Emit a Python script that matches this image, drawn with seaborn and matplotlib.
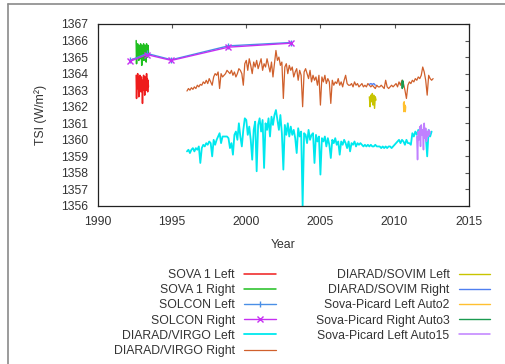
import numpy as np
import pandas as pd
import matplotlib
matplotlib.use("Agg")
import matplotlib.pyplot as plt
import seaborn as sns
from matplotlib.lines import Line2D

# ---- data ----
sova1_years = np.round(1992.575 + 0.025 * np.arange(34), 3)
sova1_left = [1363.9, 1362.5, 1363.6, 1363.1, 1364.0, 1363.2, 1363.8, 1362.6, 1363.5, 1363.0,
              1363.9, 1363.3, 1363.7, 1362.9, 1363.8, 1363.2, 1363.6, 1362.2, 1363.5, 1363.1,
              1363.9, 1363.0, 1363.6, 1362.7, 1363.8, 1363.2, 1363.5, 1363.0, 1364.0, 1363.1,
              1363.7, 1362.9, 1363.6, 1363.2]
sova1_right = [1366.0, 1364.6, 1365.6, 1365.0, 1365.8, 1365.1, 1365.5, 1364.8, 1365.7, 1365.2,
               1365.6, 1364.9, 1365.8, 1365.1, 1365.4, 1364.5, 1365.7, 1365.0, 1365.6, 1365.2,
               1365.8, 1364.8, 1365.5, 1365.1, 1365.7, 1365.0, 1365.6, 1364.7, 1365.8, 1365.2,
               1365.5, 1365.0, 1365.7, 1365.3]

solcon_years = [1992.15, 1993.3, 1994.95, 1998.8, 2003.0]
solcon_left = [1364.8, 1365.22, 1364.84, 1365.68, 1365.88]
solcon_right = [1364.74, 1365.15, 1364.8, 1365.6, 1365.84]

virgo_left_years = np.round(1996.0 + 0.1 * np.arange(166), 2)
virgo_left = [
    1359.3, 1359.4, 1359.2, 1359.4, 1359.5, 1359.3, 1359.5, 1359.4, 1359.6, 1358.6,
    1359.5, 1359.7, 1359.6, 1359.8, 1359.7, 1359.9, 1359.8, 1359.0, 1360.0, 1359.7,
    1360.0, 1360.2, 1360.4, 1359.8, 1360.2, 1360.2, 1360.2, 1360.2, 1360.1, 1359.5,
    1359.8, 1359.1, 1360.3, 1360.5, 1360.0, 1361.0, 1360.2, 1359.6, 1360.6, 1361.3,
    1361.2, 1360.3, 1360.8, 1360.0, 1358.8, 1360.6, 1361.1, 1358.1, 1360.9, 1361.3,
    1360.5, 1361.2, 1358.3, 1361.0, 1360.6, 1361.3, 1360.2, 1361.4, 1360.9, 1361.5,
    1361.8, 1361.2, 1360.6, 1361.5, 1360.4, 1358.2, 1360.9, 1360.3, 1361.0, 1360.2,
    1360.8, 1360.3, 1360.6, 1360.1, 1359.2, 1360.7, 1360.2, 1360.5, 1356.0, 1360.4,
    1360.3, 1359.8, 1360.6, 1360.0, 1360.3, 1360.4, 1358.6, 1360.3, 1359.9, 1360.2,
    1357.9, 1360.1, 1359.9, 1360.2, 1359.6, 1360.1, 1359.7, 1358.9, 1360.0, 1359.8,
    1360.1, 1359.7, 1359.9, 1359.1, 1359.9, 1359.7, 1360.0, 1359.8, 1359.5, 1359.9,
    1359.3, 1359.8, 1359.7, 1359.9, 1359.6, 1359.8, 1359.7, 1359.8, 1359.7, 1359.6,
    1359.7, 1359.6, 1359.7, 1359.6, 1359.7, 1359.6, 1359.6, 1359.7, 1359.6, 1359.6,
    1359.6, 1359.5, 1359.6, 1359.5, 1359.6, 1359.5, 1359.6, 1359.6, 1359.5, 1359.6,
    1359.7, 1359.8, 1359.9, 1360.0, 1359.8, 1360.0, 1359.9, 1359.7, 1360.0, 1359.8,
    1359.8, 1359.7, 1360.4, 1360.2, 1360.5, 1360.3, 1360.6, 1360.2, 1360.4, 1360.3,
    1360.5, 1360.3, 1359.0, 1360.6, 1360.2, 1360.5]

virgo_right_years = np.round(1996.0 + 0.1 * np.arange(167), 2)
virgo_right = [
    1362.95, 1363.1, 1363.0, 1363.15, 1363.05, 1363.2, 1363.1, 1363.3, 1363.2, 1363.35,
    1363.3, 1363.5, 1363.4, 1363.6, 1363.4, 1363.7, 1363.5, 1363.3, 1363.8, 1364.0,
    1363.9, 1364.1, 1363.1, 1364.0, 1363.8, 1363.9, 1364.0, 1364.2, 1364.1, 1364.0,
    1364.2, 1363.9, 1364.1, 1363.8, 1364.0, 1364.3, 1364.2, 1364.0, 1363.3, 1364.6,
    1364.8, 1364.2, 1364.9, 1364.5, 1364.0, 1364.7, 1364.4, 1364.8, 1364.3, 1364.6,
    1364.9, 1364.2, 1364.6, 1364.4, 1364.9, 1364.5, 1364.1, 1364.7, 1363.8, 1364.6,
    1365.4, 1364.8, 1365.0, 1364.5, 1364.7, 1362.5, 1364.4, 1364.6, 1364.0, 1364.5,
    1364.2, 1364.4, 1363.8, 1364.1, 1364.3, 1363.6, 1364.2, 1363.9, 1362.0, 1364.1,
    1364.3, 1364.0, 1363.7, 1364.2, 1363.5, 1363.9, 1363.6, 1363.8, 1363.3, 1363.9,
    1362.1, 1363.8, 1363.5, 1363.9, 1363.4, 1363.7, 1363.5, 1362.2, 1363.6, 1363.3,
    1363.5, 1363.4, 1363.7, 1363.3, 1363.5, 1363.2, 1363.6, 1363.9, 1363.4, 1363.3,
    1363.3, 1363.4, 1363.2, 1363.5, 1363.3, 1363.4, 1363.2, 1363.3, 1363.4, 1363.2,
    1363.3, 1363.2, 1363.4, 1363.3, 1363.2, 1363.3, 1363.2, 1363.1, 1363.3, 1363.2,
    1363.2, 1363.3, 1363.2, 1363.1, 1363.6, 1363.2, 1363.1, 1363.2, 1363.3, 1363.2,
    1363.3, 1363.4, 1363.2, 1363.5, 1363.3, 1363.6, 1363.4, 1363.0, 1362.5, 1363.3,
    1363.5, 1363.4, 1363.6, 1363.5, 1363.7, 1363.6, 1363.8, 1363.7, 1363.9, 1364.4,
    1364.1, 1363.6, 1362.7, 1363.9, 1363.7, 1363.6, 1363.7]

sovim_left_years = np.round(2008.3 + 0.05 * np.arange(10), 3)
sovim_left = [1362.6, 1362.0, 1362.7, 1362.3, 1362.8, 1362.1, 1362.7, 1361.9, 1362.6, 1362.4]
sovim_right_years = [2008.3, 2008.4, 2008.5, 2008.6, 2008.7]
sovim_right = [1363.35, 1363.4, 1363.35, 1363.4, 1363.3]

auto2_years = np.round(2010.6 + 0.025 * np.arange(7), 3)
auto2 = [1362.2, 1361.7, 1362.3, 1361.8, 1362.1, 1361.7, 1362.0]
auto3_years = np.round(2010.5 + 0.02 * np.arange(6), 3)
auto3 = [1363.5, 1363.1, 1363.6, 1363.2, 1363.5, 1363.2]
auto15_years = np.round(2011.5 + 0.05 * np.arange(19), 3)
auto15 = [1360.2, 1358.8, 1360.5, 1360.0, 1360.8, 1359.6, 1360.9, 1360.3, 1360.6, 1359.4,
          1361.0, 1360.1, 1360.7, 1359.9, 1360.5, 1360.2, 1360.6, 1360.3, 1360.5]

series = [
    ("SOVA 1 Left", sova1_years, sova1_left, "#ee1c1c", None, 1.1),
    ("SOVA 1 Right", sova1_years, sova1_right, "#1fbf1f", None, 1.1),
    ("SOLCON Left", solcon_years, solcon_left, "#4a8fe6", "|", 1.0),
    ("SOLCON Right", solcon_years, solcon_right, "#c62ff2", "x", 1.0),
    ("DIARAD/VIRGO Left", virgo_left_years, virgo_left, "#00e8ee", None, 1.3),
    ("DIARAD/VIRGO Right", virgo_right_years, virgo_right, "#d0602c", None, 0.9),
    ("DIARAD/SOVIM Left", sovim_left_years, sovim_left, "#c8c400", None, 1.0),
    ("DIARAD/SOVIM Right", sovim_right_years, sovim_right, "#4f7ff0", None, 1.0),
    ("Sova-Picard Left Auto2", auto2_years, auto2, "#ffc030", None, 1.0),
    ("Sova-Picard Right Auto3", auto3_years, auto3, "#1a9a50", None, 1.0),
    ("Sova-Picard Left Auto15", auto15_years, auto15, "#c080ff", None, 1.1),
]

sns.set_style("white")
plt.rcParams["font.family"] = ["Liberation Sans", "DejaVu Sans"]
fs = 8.8
plt.rcParams["font.size"] = fs

fig = plt.figure(figsize=(5.05, 3.64), dpi=100)
ax = fig.add_axes([98 / 505, 1 - 206 / 364, (468.7 - 98) / 505, (206 - 24) / 364])

for label, xs, ys, color, marker, lw in series:
    df = pd.DataFrame({"Year": xs, "TSI": ys})
    sns.lineplot(data=df, x="Year", y="TSI", ax=ax, color=color, label=label,
                 estimator=None, sort=False, linewidth=lw,
                 marker=marker, markersize=5, markeredgewidth=1.0,
                 markeredgecolor=color)

ax.set_xlim(1990, 2015)
ax.set_ylim(1356, 1367)
ax.set_xticks(range(1990, 2016, 5))
ax.set_yticks(range(1356, 1368))
ax.set_xlabel("Year", fontsize=fs, labelpad=8)
ax.set_ylabel("TSI (W/m²)", fontsize=fs, labelpad=10)
ax.tick_params(direction="in", length=3, width=0.8, color="#555555",
               top=True, right=True, labelsize=fs, pad=7, labelcolor="#333333")
for sp in ax.spines.values():
    sp.set_color("#222222")
    sp.set_linewidth(0.9)
ax.xaxis.label.set_color("#333333")
ax.yaxis.label.set_color("#333333")

handles, labels = ax.get_legend_handles_labels()
ax.get_legend().remove()
fig.legend(handles, labels, loc="upper left",
           bbox_to_anchor=(114 / 505, 1 - 269 / 364), ncol=2, markerfirst=False,
           frameon=False, fontsize=fs, handlelength=2.6, handletextpad=0.75,
           columnspacing=3.25, labelspacing=0.26, borderpad=0, borderaxespad=0,
           labelcolor="#333333")

# thin grey frame of the original screenshot
fig.add_artist(Line2D([8 / 505, 8 / 505], [0, 1 - 4 / 364], transform=fig.transFigure,
                      color="#8a8a8a", linewidth=1.2))
fig.add_artist(Line2D([8 / 505, 1], [1 - 4 / 364, 1 - 4 / 364], transform=fig.transFigure,
                      color="#8a8a8a", linewidth=1.2))

fig.savefig("out.png", dpi=100)
